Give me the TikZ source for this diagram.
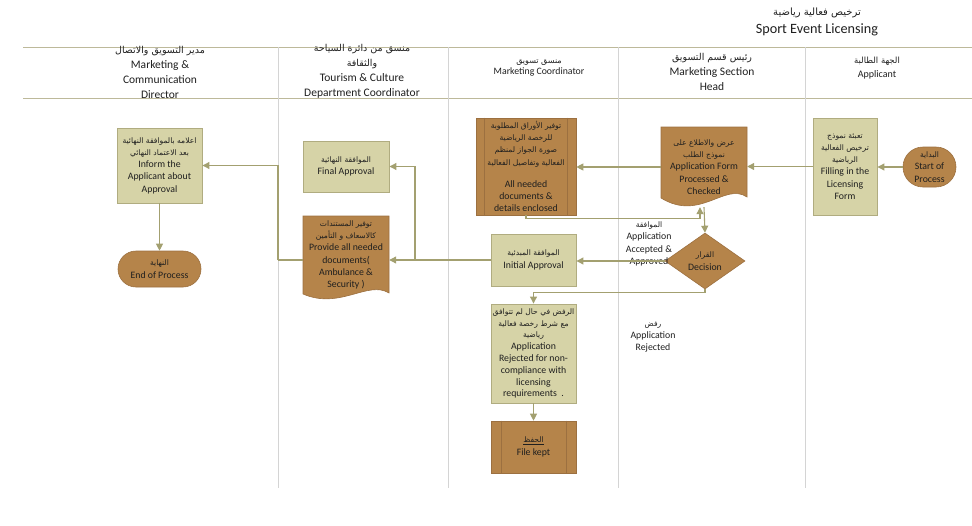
\documentclass[tikz,border=0pt]{standalone}
\usepackage{fontspec}
\setmainfont{Carlito}
\newfontfamily\arabicfont[Script=Arabic]{DejaVu Sans}
\TeXXeTstate=1
\usetikzlibrary{shapes.geometric,shapes.misc,arrows.meta,calc}
\newcommand{\artx}[2][7.6]{{\arabicfont\fontsize{#1}{12}\selectfont\beginR #2\endR}}
\definecolor{khF}{HTML}{D6D3A7}
\definecolor{khD}{HTML}{B0AC80}
\definecolor{brF}{HTML}{B5844A}
\definecolor{brD}{HTML}{9C7040}
\definecolor{conC}{HTML}{A3A070}
\definecolor{laneC}{HTML}{D4D4D4}
\definecolor{hdrC}{HTML}{BDB99A}
\tikzset{
 every node/.style={inner sep=1pt, align=center, font=\fontsize{9.8}{12.3}\selectfont, text=black!88},
 khbox/.style={rectangle, fill=khF, draw=khD, line width=0.9pt},
 brbox/.style={rectangle, fill=brF, draw=brD, line width=0.6pt},
 term/.style={rounded rectangle, fill=brF, draw=brD, line width=0.6pt},
 decis/.style={diamond, aspect=1.43, inner sep=0pt, fill=brF, draw=brD, line width=0.6pt},
 ghost/.style={rectangle, draw=none},
 docshape/.style={fill=brF, draw=brD, line width=0.6pt},
 conn/.style={draw=conC, line width=1.1pt, -{Triangle[length=7pt,width=7pt]}},
 plain/.style={draw=conC, line width=1.1pt},
 lane/.style={draw=laneC, line width=0.8pt},
 hline/.style={draw=hdrC, line width=1pt},
 hdr/.style={font=\fontsize{11.5}{15}\selectfont},
}
\begin{document}
\begin{tikzpicture}[x=1pt,y=-1pt]
\useasboundingbox (0,0) rectangle (972,525);
% title
\node[font=\fontsize{14.2}{18}\selectfont] (Title) at (817,22) {\artx[10]{ترخيص فعالية رياضية}\\Sport Event Licensing};
% swimlane frame
\draw[hline] (23,47) -- (972,47);
\draw[hline] (23,98) -- (972,98);
\foreach \xx in {278,448,618,805} {\draw[lane] (\xx,47) -- (\xx,488);}
% headers
\node[hdr] (H1) at (160,72) {\artx[9.5]{مدير التسويق والاتصال}\\Marketing \&\\Communication\\Director};
\node[hdr] (H2) at (362,71) {\artx[9.5]{منسق من دائرة السياحة}\\\artx[9.5]{والثقافة}\\Tourism \& Culture\\Department Coordinator};
\node[font=\fontsize{9.8}{11.5}\selectfont] (H3) at (539,68) {\artx[8]{منسق تسويق}\\Marketing Coordinator};
\node[hdr] (H4) at (712,71.5) {\artx[9.5]{رئيس قسم التسويق}\\Marketing Section\\Head};
\node[font=\fontsize{10}{14}\selectfont] (H5) at (877,68) {\artx[8.5]{الجهة الطالبة}\\Applicant};

% Applicant lane
\node[term, minimum width=55pt, minimum height=40pt] (Start) at (929.5,167) {\artx{البداية}\\Start of\\Process};
\node[khbox, minimum width=64pt, minimum height=97pt] (Fill) at (845,166.5) {\artx{تعبئة نموذج}\\\artx{ترخيص الفعالية}\\\artx{الرياضية}\\Filling in the\\Licensing\\Form};

% Marketing Section Head lane
\path[docshape] (661,127) -- (747,127) -- (747,197) .. controls (725,182) and (700,222) .. (661,198) -- cycle;
\node[ghost, minimum width=86pt, minimum height=80pt] (Form) at (704,167) {\artx{عرض والاطلاع على}\\\artx{نموذج الطلب}\\Application Form\\Processed \&\\Checked};
\node[decis, minimum width=80pt, minimum height=56pt] (Dec) at (705,261) {\artx{القرار}\\Decision};

% Marketing Coordinator lane
\node[brbox, minimum width=100pt, minimum height=97pt] (Docs) at (526,166.5) {\artx{توفير الأوراق المطلوبة}\\\artx{للرخصة الرياضية}\\\artx{صورة الجواز لمنظم}\\\artx{الفعالية وتفاصيل الفعالية}\\[10pt]All needed\\documents \&\\details enclosed};
\draw[brD, line width=0.6pt] ([xshift=9pt]Docs.north west) -- ([xshift=9pt]Docs.south west);
\draw[brD, line width=0.6pt] ([xshift=-9pt]Docs.north east) -- ([xshift=-9pt]Docs.south east);
\node[khbox, minimum width=85pt, minimum height=52pt] (Init) at (533.5,260) {\artx{الموافقة المبدئية}\\Initial Approval};
\node[khbox, minimum width=85pt, minimum height=99pt, font=\fontsize{9.8}{11.8}\selectfont] (Rej) at (533.5,353.5) {\artx{الرفض في حال لم تتوافق}\\\artx{مع شرط رخصة فعالية}\\\artx{رياضية}\\Application\\Rejected for non-\\compliance with\\licensing\\requirements\ \ .};
\node[brbox, minimum width=85pt, minimum height=52pt] (File) at (533.5,447) {\underline{\artx{الحفظ}}\\File kept};
\draw[brD, line width=0.6pt] ([xshift=10.5pt]File.north west) -- ([xshift=10.5pt]File.south west);
\draw[brD, line width=0.6pt] ([xshift=-10.5pt]File.north east) -- ([xshift=-10.5pt]File.south east);

% Tourism lane
\node[khbox, minimum width=86pt, minimum height=51pt] (Final) at (346,166.5) {\artx{الموافقة النهائية}\\Final Approval};
\path[docshape] (303,216) -- (389,216) -- (389,293) .. controls (368,280) and (340,310) .. (303,294) -- cycle;
\node[ghost, minimum width=86pt, minimum height=80pt] (Prov) at (346,255) {\artx{توفير المستندات}\\\artx{كالاسعاف و التأمين}\\Provide all needed\\documents(\\Ambulance \&\\Security )};

% Director lane
\node[khbox, minimum width=85pt, minimum height=75pt] (Inform) at (159.5,165.5) {\artx{اعلامه بالموافقة النهائية}\\\artx{بعد الاعتماد النهائي}\\Inform the\\Applicant about\\Approval};
\node[term, minimum width=85pt, minimum height=36pt] (End) at (159.5,269) {\artx{النهاية}\\End of Process};

% edge labels
\node (LblAcc) at (649,244) {\artx{الموافقة}\\Application\\Accepted \&\\Approved};
\node (LblRej) at (653,337) {\artx{رفض}\\Application\\Rejected};

% junction points
\coordinate (jA) at (415,260);
\coordinate (jB) at (278,260);

% connectors
\draw[conn] (Start.west) -- (Fill.east |- Start.west);
\draw[conn] (Fill.west) -- (Form.east |- Fill.west);
\draw[conn] (Form.west) -- (Docs.east |- Form.west);
\draw[conn] (Docs.south) -- ++(0,3) -| ([xshift=-4pt]Form.south);
\draw[conn] (Form.south) -- (Dec.north);
\draw[conn] (Dec.west) -- (Init.east |- Dec.west);
\draw[conn] (Dec.south) -- ++(0,3) -| (Rej.north);
\draw[conn] (Rej.south) -- (File.north);
\draw[conn] (Init.west) -- (Prov.east |- Init.west);
\draw[conn] (jA) |- (Final.east);
\draw[plain] (Prov.west |- jB) -- (jB);
\draw[conn] (jB) |- (Inform.east);
\draw[conn] (Inform.south) -- (End.north);
\end{tikzpicture}
\end{document}
